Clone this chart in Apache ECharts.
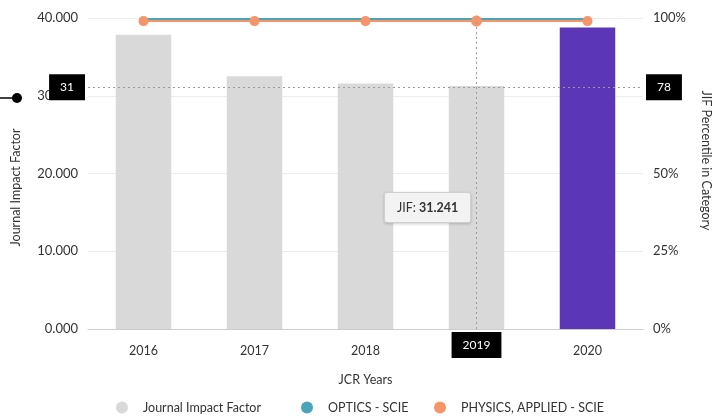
<!DOCTYPE html>
<html>
<head>
<meta charset="utf-8">
<script src="https://cdn.jsdelivr.net/npm/echarts@6/dist/echarts.min.js"></script>
<style>
html,body{margin:0;padding:0;background:#fff;}
#main{width:713px;height:418px;}
</style>
</head>
<body>
<div id="main"></div>
<script>
var years = ['2016', '2017', '2018', '2019', '2020'];
var jif = [37.852, 32.521, 31.583, 31.241, 38.771];
var optics = [99.7, 99.7, 99.7, 99.7, 99.7];
var physicsApplied = [99.0, 99.0, 99.0, 99.0, 99.0];
var leftTicks = [0, 10, 20, 30, 40];
var rightTicks = [0, 25, 50, 75, 100];
var seriesNames = ['Journal Impact Factor', 'OPTICS - SCIE', 'PHYSICS, APPLIED - SCIE'];
var focusYear = '2019';
var pointerJif = 31.1;
var tooltipJif = 15.6;

var FONT = 'Lato';
var GRAY = '#d9d9d9';
var PURPLE = '#5b37b7';
var TEAL = '#4aa5b8';
var ORANGE = '#f6956a';
var legendColors = [GRAY, TEAL, ORANGE];
var legendLefts = [116, 301, 434];

var chart = echarts.init(document.getElementById('main'));
var option = {
  animation: false,
  textStyle: { fontFamily: FONT },
  grid: { left: 88, right: 70, top: 18, bottom: 89, outerBoundsMode: 'none', containLabel: false },
  tooltip: {
    trigger: 'axis',
    alwaysShowContent: true,
    transitionDuration: 0,
    backgroundColor: '#f3f3f3',
    borderColor: '#cfcfcf',
    borderWidth: 1,
    padding: [5, 12],
    textStyle: { color: '#333', fontSize: 12.5, fontFamily: FONT },
    extraCssText: 'box-shadow:0 1px 3px rgba(0,0,0,0.2);border-radius:3px;',
    formatter: function (params) {
      var p = params.filter(function (q) { return q.seriesIndex === 0; })[0];
      return 'JIF: <b>' + p.value.toFixed(3) + '</b>';
    },
    position: function (point, params, dom, rect, size) {
      var x = chart.convertToPixel({ xAxisIndex: 0 }, focusYear);
      var y = chart.convertToPixel({ yAxisIndex: 0 }, tooltipJif);
      return [x - size.contentSize[0] - 6, y - size.contentSize[1] / 2];
    },
    axisPointer: {
      type: 'cross',
      crossStyle: { color: '#9a9a9a', type: [2, 3], width: 1 },
      lineStyle: { color: '#9a9a9a', type: [2, 3], width: 1 },
      label: {
        backgroundColor: '#000',
        color: '#fff',
        fontFamily: FONT,
        fontSize: 12,
        padding: [7, 11],
        borderRadius: 0,
        formatter: function (p) {
          if (p.axisDimension === 'x') return p.value;
          return String(Math.round(p.value));
        }
      }
    }
  },
  legend: seriesNames.map(function (name, i) {
    return {
      left: legendLefts[i],
      top: 401,
      padding: 0,
      itemWidth: 12,
      itemHeight: 12,
      icon: 'circle',
      textStyle: { color: '#333', fontSize: 12.5, fontFamily: FONT, padding: [0, 0, 0, 10] },
      data: [{ name: name, itemStyle: { color: legendColors[i] } }]
    };
  }),
  xAxis: {
    type: 'category',
    data: years,
    name: 'JCR Years',
    nameLocation: 'middle',
    nameGap: 44,
    nameTextStyle: { color: '#333', fontSize: 12.5 },
    axisLine: { lineStyle: { color: '#cccccc', width: 1 } },
    axisTick: { show: false },
    axisLabel: { color: '#333', fontSize: 12.5, margin: 15 }
  },
  yAxis: [
    {
      type: 'value',
      min: leftTicks[0],
      max: leftTicks[leftTicks.length - 1],
      interval: leftTicks[1] - leftTicks[0],
      name: 'Journal Impact Factor',
      nameLocation: 'middle',
      nameGap: 66,
      nameTextStyle: { color: '#333', fontSize: 12.5, padding: [0, 28, 0, 0] },
      axisLine: { show: false },
      axisTick: { show: false },
      splitLine: { lineStyle: { color: '#ececec' } },
      axisLabel: { color: '#333', fontSize: 13, margin: 10,
        formatter: function (v) { return v.toFixed(3); } }
    },
    {
      type: 'value',
      min: rightTicks[0],
      max: rightTicks[rightTicks.length - 1],
      interval: rightTicks[1] - rightTicks[0],
      name: 'JIF Percentile in Category',
      nameLocation: 'middle',
      nameRotate: -90,
      nameGap: 57,
      nameTextStyle: { color: '#333', fontSize: 12.5, padding: [0, 26, 0, 0] },
      axisLine: { show: false },
      axisTick: { show: false },
      splitLine: { show: false },
      axisLabel: { color: '#333', fontSize: 13, margin: 10,
        formatter: function (v) { return v + '%'; } }
    }
  ],
  series: [
    {
      name: seriesNames[0],
      type: 'bar',
      yAxisIndex: 0,
      barWidth: '50%',
      emphasis: { disabled: true },
      data: jif.map(function (v, i) {
        return { value: v, itemStyle: { color: i === jif.length - 1 ? PURPLE : GRAY } };
      })
    },
    {
      name: seriesNames[1],
      type: 'line',
      yAxisIndex: 1,
      data: optics,
      showSymbol: false,
      symbol: 'circle',
      emphasis: { disabled: true },
      lineStyle: { color: TEAL, width: 2 },
      itemStyle: { color: TEAL }
    },
    {
      name: seriesNames[2],
      type: 'line',
      yAxisIndex: 1,
      data: physicsApplied,
      symbol: 'circle',
      symbolSize: 10,
      emphasis: { disabled: true },
      lineStyle: { color: ORANGE, width: 2 },
      itemStyle: { color: ORANGE }
    }
  ],
  graphic: [
    { type: 'line', shape: { x1: 0, y1: 98, x2: 16, y2: 98 }, style: { stroke: '#000', lineWidth: 1.5 } },
    { type: 'circle', shape: { cx: 17, cy: 98, r: 5 }, style: { fill: '#000' } }
  ]
};
chart.setOption(option);
var px = chart.convertToPixel({ xAxisIndex: 0 }, focusYear);
var py = chart.convertToPixel({ yAxisIndex: 0 }, pointerJif);
chart.dispatchAction({ type: 'showTip', x: px, y: py });
</script>
</body>
</html>
